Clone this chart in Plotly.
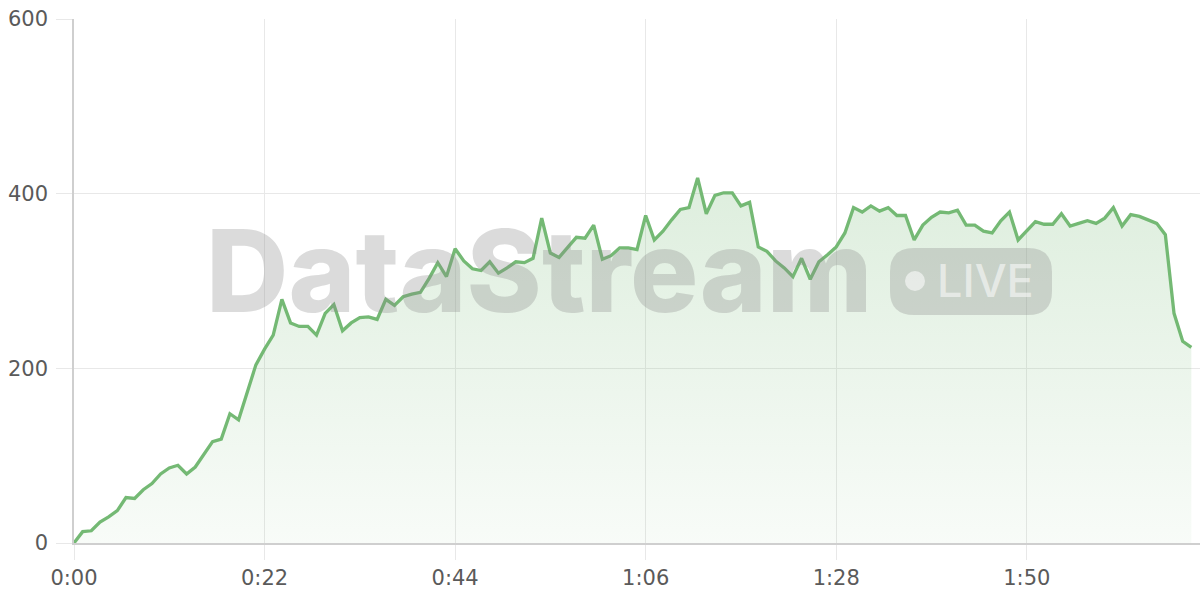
import plotly.graph_objects as go

# elapsed time in seconds
seconds = list(range(130))
values = [
    0, 13, 14, 24, 30, 37, 52, 51, 61, 68,
    79, 86, 89, 79, 87, 101, 116, 119, 148, 141,
    171, 204, 222, 238, 279, 252, 248, 248, 238, 263,
    273, 243, 252, 258, 259, 256, 279, 272, 282, 285,
    287, 303, 321, 305, 337, 323, 314, 312, 322, 309,
    315, 322, 321, 326, 372, 332, 327, 339, 350, 349,
    364, 325, 329, 338, 338, 336, 375, 347, 357, 370,
    382, 384, 418, 377, 398, 401, 401, 386, 390, 339,
    334, 323, 315, 305, 326, 302, 322, 330, 339, 355,
    384, 379, 386, 380, 384, 375, 375, 347, 364, 373,
    379, 378, 381, 364, 364, 357, 355, 369, 379, 347,
    358, 368, 365, 365, 377, 363, 366, 369, 366, 372,
    384, 363, 376, 374, 370, 366, 353, 263, 231, 224,
]
x_tickvals = [0, 22, 44, 66, 88, 110]
x_ticktext = ["0:00", "0:22", "0:44", "1:06", "1:28", "1:50"]
y_tickvals = [0, 200, 400, 600]

LINE = "#74b974"
GRID = "#e8e8e8"
AXIS = "#cfcfcf"
TICKFONT = dict(family="DejaVu Sans", size=21, color="#5a5a5a")

fig = go.Figure()
fig.add_trace(go.Scatter(
    x=seconds, y=values, mode="lines",
    line=dict(color=LINE, width=3.3),
    fill="tozeroy",
    fillgradient=dict(
        type="vertical",
        colorscale=[[0, "rgba(115,184,115,0.05)"], [1, "rgba(115,184,115,0.24)"]],
    ),
    hoverinfo="skip", showlegend=False,
))

# plot area in pixels: x 74..1200, y 19..543
L, R, T, B = 74, 1200, 19, 543
def px(xp):
    return (xp - L) / (R - L)
def py(yp):
    return (B - yp) / (B - T)

WM = "rgba(135,135,135,0.30)"
WM_LIGHT = "rgba(255,255,255,0.55)"

# rounded badge path
bx0, bx1, by0, by1, r = 890, 1052, 248, 315, 24
rx = r / (R - L)
ry = r / (B - T)
X0, X1, Y0, Y1 = px(bx0), px(bx1), py(by1), py(by0)
path = (
    f"M {X0+rx},{Y0} L {X1-rx},{Y0} Q {X1},{Y0} {X1},{Y0+ry} "
    f"L {X1},{Y1-ry} Q {X1},{Y1} {X1-rx},{Y1} "
    f"L {X0+rx},{Y1} Q {X0},{Y1} {X0},{Y1-ry} "
    f"L {X0},{Y0+ry} Q {X0},{Y0} {X0+rx},{Y0} Z"
)
fig.add_shape(type="path", path=path, xref="paper", yref="paper",
              fillcolor=WM, line=dict(width=0), layer="above")
fig.add_shape(type="circle", xref="paper", yref="paper",
              x0=px(905), x1=px(925), y0=py(291), y1=py(271),
              fillcolor=WM_LIGHT, line=dict(width=0), layer="above")

fig.add_annotation(
    text="DataStream", xref="paper", yref="paper",
    x=px(539), y=py(270), xanchor="center", yanchor="middle",
    showarrow=False,
    font=dict(family="Inter", size=114, color=WM, weight=800),
)
fig.add_annotation(
    text="LIVE", xref="paper", yref="paper",
    x=px(985), y=py(280), xanchor="center", yanchor="middle",
    showarrow=False,
    font=dict(family="Inter", size=45, color=WM_LIGHT, weight=500),
)

fig.update_layout(
    width=1200, height=600,
    margin=dict(l=L, r=1200 - R, t=T, b=600 - B),
    paper_bgcolor="white", plot_bgcolor="white",
    xaxis=dict(
        range=[0, 130], tickvals=x_tickvals, ticktext=x_ticktext,
        showgrid=True, gridcolor=GRID, gridwidth=1,
        ticks="outside", ticklen=15, tickcolor=GRID,
        showline=True, linecolor=AXIS, linewidth=1.5,
        zeroline=False, tickfont=TICKFONT, fixedrange=True,
    ),
    yaxis=dict(
        range=[0, 600], tickvals=y_tickvals,
        showgrid=True, gridcolor=GRID, gridwidth=1,
        ticks="outside", ticklen=16, tickcolor=GRID,
        showline=True, linecolor=AXIS, linewidth=1.5,
        zeroline=False, tickfont=TICKFONT, fixedrange=True,
        ticklabelstandoff=4,
    ),
)

fig.write_html(
    "out.html",
    config={"displayModeBar": False},
    post_script="document.body.style.margin='0';document.body.style.overflow='hidden';",
)
